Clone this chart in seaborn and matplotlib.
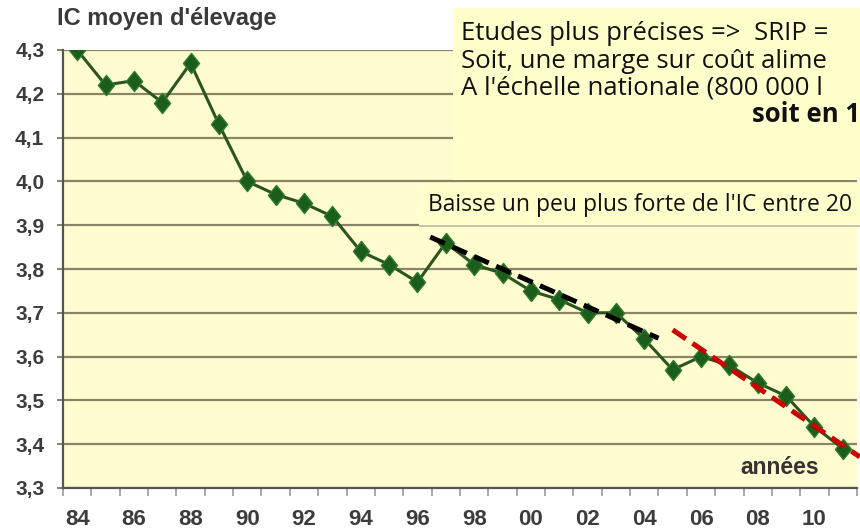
import numpy as np
import pandas as pd
import seaborn as sns
import matplotlib
matplotlib.use("Agg")
import matplotlib.pyplot as plt
from matplotlib.path import Path
from matplotlib.patches import Rectangle

# ---- data ----
years = list(range(1984, 2012))
ic_values = [4.30, 4.22, 4.23, 4.18, 4.27, 4.13, 4.00, 3.97, 3.95, 3.92,
             3.84, 3.81, 3.77, 3.86, 3.81, 3.79, 3.75, 3.73, 3.70, 3.70,
             3.64, 3.57, 3.60, 3.58, 3.54, 3.51, 3.44, 3.39]
trend1_years = [1996.45, 2004.5]
trend1_values = [3.873, 3.642]
trend2_years = [2005.0, 2011.6]
trend2_values = [3.661, 3.371]
ytick_values = [3.3, 3.4, 3.5, 3.6, 3.7, 3.8, 3.9, 4.0, 4.1, 4.2, 4.3]
ytick_labels = ["3,3", "3,4", "3,5", "3,6", "3,7", "3,8", "3,9", "4,0", "4,1", "4,2", "4,3"]
xtick_years = list(range(1984, 2011, 2))
xtick_labels = ["84", "86", "88", "90", "92", "94", "96", "98", "00", "02", "04", "06", "08", "10"]

title_text = "IC moyen d'élevage"
xlabel_text = "années"
box1_lines = ["Etudes plus précises =>  SRIP =",
              "Soit, une marge sur coût alime",
              "A l'échelle nationale (800 000 l"]
box1_bold = "soit en 1"
box2_text = "Baisse un peu plus forte de l'IC entre 20"

df = pd.DataFrame({"year": years, "ic": ic_values})

sns.set_theme(style="white")
plt.rcParams["font.family"] = ["Liberation Sans", "DejaVu Sans"]

W, H = 860, 531
fig = plt.figure(figsize=(W / 100, H / 100), dpi=100)
fig.patch.set_facecolor("white")

def fx(px):
    return px / W

def fy(py):
    return 1 - py / H

ax = fig.add_axes([fx(63), fy(488), (857 - 63) / W, (488 - 50) / H])
ax.set_facecolor("#FFFDD0")

grid_col = "#8a8466"
for v in ytick_values:
    ax.axhline(v, color=grid_col, lw=1.6, zorder=1)

diamond = Path([(0, 1), (0.8, 0), (0, -1), (-0.8, 0), (0, 1)],
               [Path.MOVETO, Path.LINETO, Path.LINETO, Path.LINETO, Path.CLOSEPOLY])

sns.lineplot(data=df, x="year", y="ic", ax=ax, color="#2a5420", lw=2.2,
             marker=diamond, markersize=14.5, markerfacecolor="#1b5e1b",
             markeredgecolor="#2f7a2a", markeredgewidth=1.0, zorder=3)

ax.plot(trend1_years, trend1_values, color="black", lw=3.6, dashes=(3.2, 1.6), zorder=4,
        dash_capstyle="butt")
ax.plot(trend2_years, trend2_values, color="#cc0000", lw=3.6, dashes=(3.2, 1.6), zorder=4,
        clip_on=False, dash_capstyle="butt")

ax.set_xlim(1983.5, 2011.5)
ax.set_ylim(3.3, 4.3)
ax.set_xlabel("")
ax.set_ylabel("")

ax.set_yticks(ytick_values)
ax.set_yticklabels(ytick_labels, fontsize=15, fontweight="bold", color="#3c3c3c")
ax.tick_params(axis="y", which="major", length=4.5, width=1.4, color=grid_col, pad=9, left=True)

ax.set_xticks(xtick_years)
ax.set_xticklabels(xtick_labels, fontsize=16, fontweight="bold", color="#3c3c3c")
ax.set_xticks(np.arange(1983.5, 2012, 1.0), minor=True)
ax.tick_params(axis="x", which="major", length=0, pad=15, bottom=True)
ax.tick_params(axis="x", which="minor", length=6, width=1.2, color="#999999", bottom=True)

for s in ["top", "right"]:
    ax.spines[s].set_visible(False)
ax.spines["left"].set_color("#555555")
ax.spines["left"].set_linewidth(1.6)
ax.spines["bottom"].set_color("#555555")
ax.spines["bottom"].set_linewidth(1.6)
ax.spines["left"].set_zorder(5)
ax.spines["bottom"].set_zorder(5)

ax.text((780 - 63) / 794, (488 - 467) / 438, xlabel_text, transform=ax.transAxes,
        ha="center", va="center", fontsize=16.5, fontweight="bold", color="#333333", zorder=6)

fig.text(fx(57), fy(18), title_text, ha="left", va="center", fontsize=17,
         fontweight="bold", color="#3a3a3a")

# annotation boxes
box_col = "#FFFFCC"
fig.patches.append(Rectangle((fx(453), fy(180)), fx(860) - fx(453), fy(8) - fy(180),
                             transform=fig.transFigure, facecolor=box_col,
                             edgecolor="none", zorder=10))
fig.patches.append(Rectangle((fx(419), fy(226)), fx(860) - fx(419), fy(183) - fy(226),
                             transform=fig.transFigure, facecolor=box_col,
                             edgecolor="none", zorder=10))
# soft shadow under second box
fig.patches.append(Rectangle((fx(419), fy(227)), fx(860) - fx(419), fy(225) - fy(227),
                             transform=fig.transFigure, facecolor="#c9c6a8",
                             edgecolor="none", zorder=10))

line_y = [34, 61, 88]
for txt, yy in zip(box1_lines, line_y):
    fig.text(fx(461), fy(yy), txt, ha="left", va="center", fontsize=18.5,
             family=["Open Sans", "DejaVu Sans"], color="#111111", zorder=11)
fig.text(fx(752), fy(115), box1_bold, ha="left", va="center", fontsize=18.5,
         family=["Open Sans", "DejaVu Sans"], fontweight="bold", color="#111111", zorder=11)
fig.text(fx(428), fy(205), box2_text, ha="left", va="center", fontsize=16.5,
         family=["Open Sans", "DejaVu Sans"], color="#111111", zorder=11)

fig.savefig("out.png", dpi=100)
